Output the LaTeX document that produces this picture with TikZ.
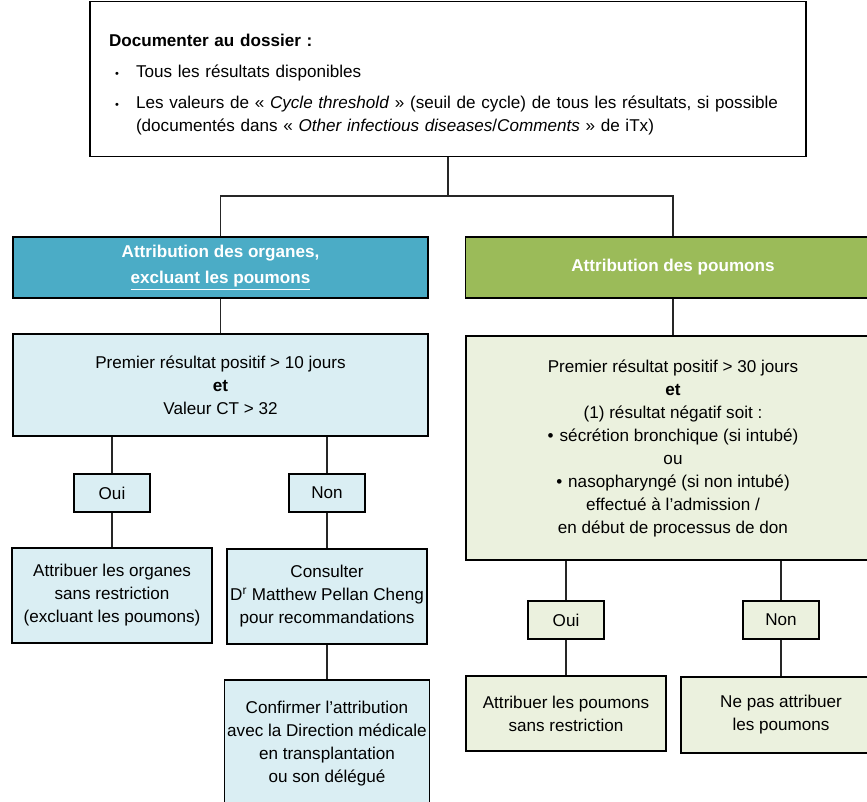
\documentclass[tikz,border=0pt]{standalone}
\usepackage{fontspec}
\setmainfont{Liberation Sans}
\usepackage{xcolor}
\usepackage{tikz}
\usetikzlibrary{shapes}

\definecolor{organhead}{HTML}{4BACC6}
\definecolor{lunghead}{HTML}{9BBB59}
\definecolor{organfill}{HTML}{DAEEF3}
\definecolor{lungfill}{HTML}{EBF1DE}

\begin{document}
\begin{tikzpicture}[x=1pt, y=-1pt,
  every node/.style={font=\fontsize{17.1}{23}\selectfont},
  box/.style={draw, line width=1.3pt, align=center, inner sep=3pt},
  head/.style={box, text=white, font=\bfseries\fontsize{17.1}{23}\selectfont, minimum width=415, minimum height=61},
  organ/.style={box, fill=organfill},
  lung/.style={box, fill=lungfill},
  answer/.style={minimum width=76, minimum height=38},
  result/.style={minimum width=200},
  link/.style={line width=1.3pt, draw=black!85}]
\useasboundingbox (0,0) rectangle (867,801);
\clip (0,0) rectangle (867,801);

\node[box, align=left, text width=678, inner xsep=19, minimum width=716, minimum height=155] (doc) at (448,79) {%
\rule{0pt}{24pt}\textbf{Documenter au dossier :}\\[8pt]
\makebox[27pt][l]{\hspace{6pt}{\fontsize{11}{11}\selectfont\textbullet}}Tous les résultats disponibles\\[8pt]
\makebox[27pt][l]{\hspace{6pt}{\fontsize{11}{11}\selectfont\textbullet}}\mbox{Les valeurs de « \textit{Cycle threshold} » (seuil de cycle) de tous les résultats, si possible}\\
\hspace*{27pt}(documentés dans « \textit{Other infectious diseases}/\textit{Comments} » de iTx)};
\coordinate (split) at (448,196);

% organes, excluant les poumons
\node[head, fill=organhead] (headL) at (220.5,267.5) {Attribution des organes,\\[3pt]\underline{excluant les poumons}};
\node[organ, minimum width=415, minimum height=102] (condL) at (220.5,385) {Premier résultat positif > 10 jours\\\textbf{et}\\Valeur CT > 32};
\node[organ, answer] (ouiL) at (112,493) {Oui};
\node[organ, answer] (nonL) at (327,493) {Non};
\node[organ, result, minimum height=95] (attrL) at (112,595.5) {Attribuer les organes\\sans restriction\\(excluant les poumons)};
\node[organ, result, minimum height=95] (consL) at (327,596.5) {Consulter\\D\textsuperscript{r} Matthew Pellan Cheng\\pour recommandations};
\node[organ, result, minimum height=128] (confL) at (327,744) {Confirmer l’attribution\\avec la Direction médicale\\en transplantation\\ou son délégué};

% poumons
\node[head, fill=lunghead] (headR) at (673,267.5) {Attribution des poumons};
\node[lung, minimum width=414, minimum height=224] (condR) at (673,448) {Premier résultat positif > 30 jours\\\textbf{et}\\(1) résultat négatif soit :\\
\textbullet\hspace{6pt}sécrétion bronchique (si intubé)\\ou\\
\textbullet\hspace{6pt}nasopharyngé (si non intubé)\\effectué à l’admission /\\en début de processus de don};
\node[lung, answer] (ouiR) at (566,620) {Oui};
\node[lung, answer] (nonR) at (781,620) {Non};
\node[lung, result, minimum height=75] (attrR) at (566,713.5) {Attribuer les poumons\\sans restriction};
\node[lung, result, minimum height=76] (nonattR) at (781,715) {Ne pas attribuer\\les poumons};

\draw[link] (doc.south) -- (split) -| (headL.north);
\draw[link] (split) -| (headR.north);
\draw[link] (headL) edge (condL)
            (ouiL.north |- condL.south) edge (ouiL)
            (nonL.north |- condL.south) edge (nonL)
            (ouiL) edge (attrL)
            (nonL) edge (consL)
            (consL) edge (confL);
\draw[link] (headR) edge (condR)
            (ouiR.north |- condR.south) edge (ouiR)
            (nonR.north |- condR.south) edge (nonR)
            (ouiR) edge (attrR)
            (nonR) edge (nonattR);
\end{tikzpicture}
\end{document}
